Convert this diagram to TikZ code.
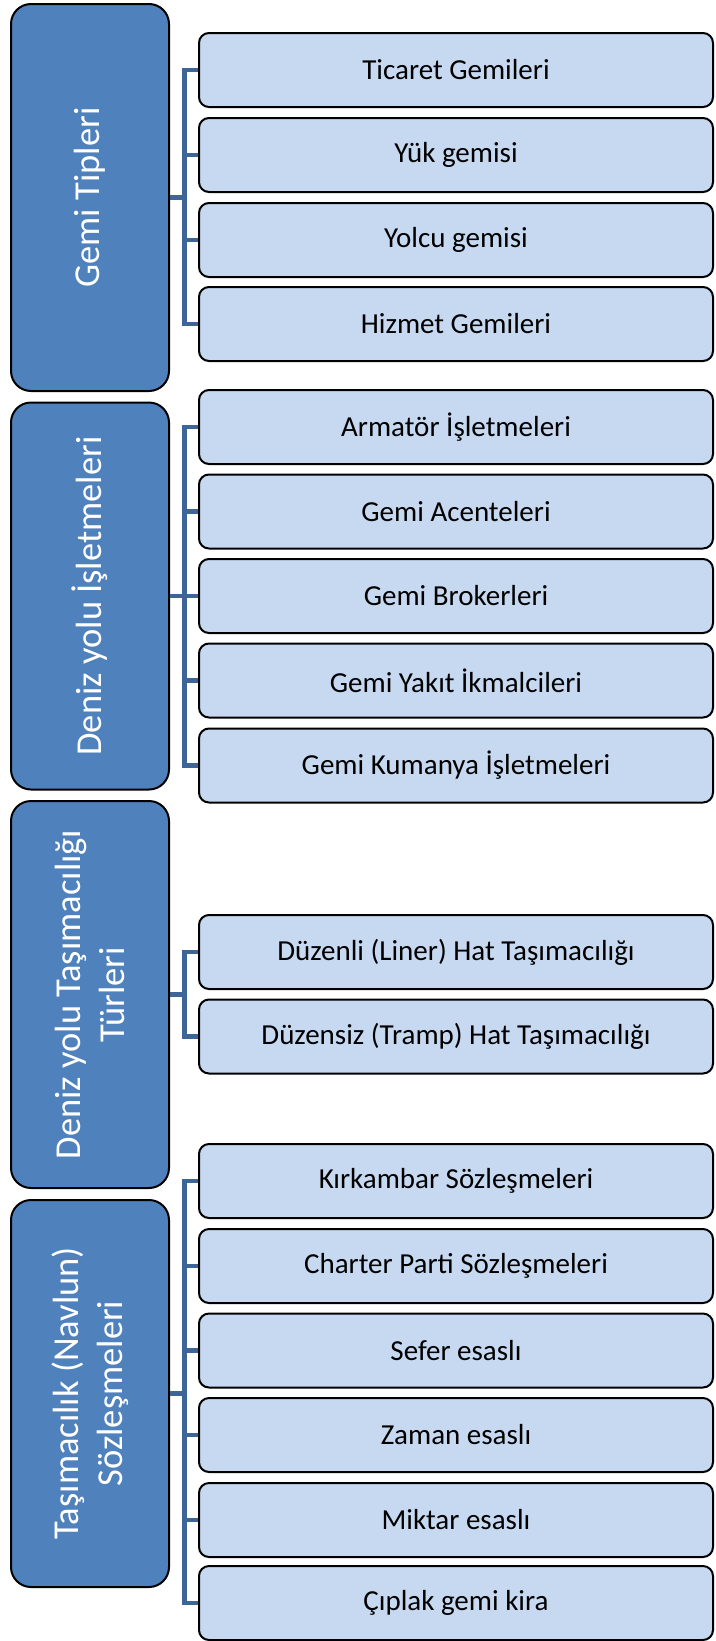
\documentclass[tikz,border=0pt]{standalone}
\usepackage{fontspec}
\setmainfont{Carlito}
\definecolor{parentblue}{HTML}{4F81BD}
\definecolor{childblue}{HTML}{C6D9F1}
\definecolor{linkblue}{HTML}{3D6597}
\begin{document}
\begin{tikzpicture}[x=1pt,y=-1pt,
  parentbox/.style={draw=black, line width=2pt, fill=parentblue, rounded corners=20pt,
    minimum width=158pt, minimum height=387pt, inner sep=0pt},
  parenttext/.style={rotate=90, text=white, align=center, inner sep=0pt,
    font=\fontsize{36.5}{44}\selectfont},
  childbox/.style={draw=black, line width=2pt, fill=childblue, rounded corners=10pt,
    minimum width=514pt, minimum height=74pt, inner sep=0pt,
    font=\fontsize{29}{35}\selectfont},
  conn/.style={draw=linkblue, line width=4.5pt, line join=miter}]
\useasboundingbox (0,0) rectangle (715,1641);

% category boxes on the left
\node[parentbox] (p1) at (90,197.5) {};
\node[parentbox] (p2) at (90,596) {};
\node[parentbox] (p3) at (90,994.5) {};
\node[parentbox] (p4) at (90,1393.5) {};
\node[parenttext] (p1t) at (p1.center) {Gemi Tipleri};
\node[parenttext] (p2t) at (p2.center) {Deniz yolu İşletmeleri};
\node[parenttext] (p3t) at (p3.center) {Deniz yolu Taşımacılığı\\Türleri};
\node[parenttext] (p4t) at (p4.center) {Taşımacılık (Navlun)\\Sözleşmeleri};

% branch points on the buses
\coordinate (b1) at (184.5,197.5);
\coordinate (b2) at (184.5,596);
\coordinate (b3) at (184.5,994.5);
\coordinate (b4) at (184.5,1393.5);

% group 1
\node[childbox] (c11) at (456,70)  {Ticaret Gemileri};
\node[childbox] (c12) at (456,155) {Yük gemisi};
\node[childbox] (c13) at (456,240) {Yolcu gemisi};
\node[childbox] (c14) at (456,324) {Hizmet Gemileri};
% group 2
\node[childbox] (c21) at (456,427) {Armatör İşletmeleri};
\node[childbox] (c22) at (456,511.5) {Gemi Acenteleri};
\node[childbox] (c23) at (456,596) {Gemi Brokerleri};
\node[childbox] (c24) at (456,680.5) {Gemi Yakıt İkmalcileri};
\node[childbox] (c25) at (456,765.5) {Gemi Kumanya İşletmeleri};
% group 3
\node[childbox] (c31) at (456,952) {Düzenli (Liner) Hat Taşımacılığı};
\node[childbox] (c32) at (456,1036.5) {Düzensiz (Tramp) Hat Taşımacılığı};
% group 4
\node[childbox] (c41) at (456,1181) {Kırkambar Sözleşmeleri};
\node[childbox] (c42) at (456,1266) {Charter Parti Sözleşmeleri};
\node[childbox] (c43) at (456,1350.5) {Sefer esaslı};
\node[childbox] (c44) at (456,1435) {Zaman esaslı};
\node[childbox] (c45) at (456,1520) {Miktar esaslı};
\node[childbox] (c46) at (456,1603) {Çıplak gemi kira};

% tree connectors
\draw[conn] (p1.east) -- (b1);
\foreach \c in {c11,c12,c13,c14} \draw[conn] (b1) |- (\c.west);
\draw[conn] (p2.east) -- (b2);
\foreach \c in {c21,c22,c23,c24,c25} \draw[conn] (b2) |- (\c.west);
\draw[conn] (p3.east) -- (b3);
\foreach \c in {c31,c32} \draw[conn] (b3) |- (\c.west);
\draw[conn] (p4.east) -- (b4);
\foreach \c in {c41,c42,c43,c44,c45,c46} \draw[conn] (b4) |- (\c.west);
\end{tikzpicture}
\end{document}
